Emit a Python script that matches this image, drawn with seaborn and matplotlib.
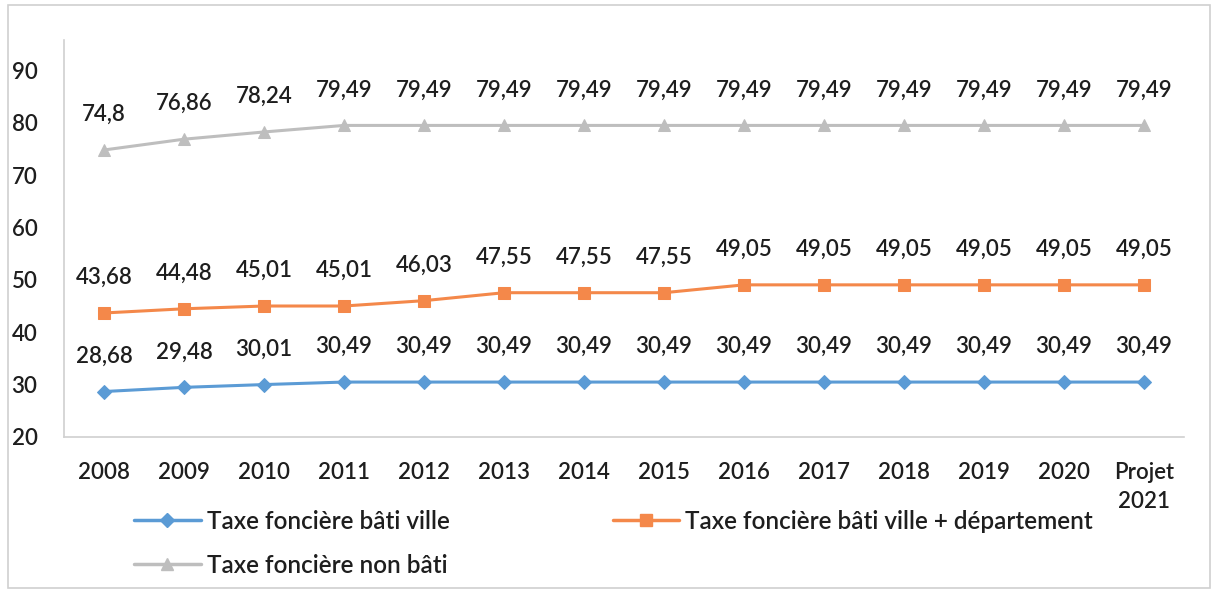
import matplotlib
matplotlib.use("Agg")
import matplotlib.pyplot as plt
import seaborn as sns
import pandas as pd
from matplotlib.lines import Line2D
from matplotlib.patches import Rectangle

categories = ["2008", "2009", "2010", "2011", "2012", "2013", "2014", "2015",
              "2016", "2017", "2018", "2019", "2020", "Projet\n2021"]
bati_ville = [28.68, 29.48, 30.01, 30.49, 30.49, 30.49, 30.49, 30.49,
              30.49, 30.49, 30.49, 30.49, 30.49, 30.49]
bati_ville_dep = [43.68, 44.48, 45.01, 45.01, 46.03, 47.55, 47.55, 47.55,
                  49.05, 49.05, 49.05, 49.05, 49.05, 49.05]
non_bati = [74.8, 76.86, 78.24, 79.49, 79.49, 79.49, 79.49, 79.49,
            79.49, 79.49, 79.49, 79.49, 79.49, 79.49]
series_names = ["Taxe foncière bâti ville",
                "Taxe foncière bâti ville + département",
                "Taxe foncière non bâti"]
yticks = [20, 30, 40, 50, 60, 70, 80, 90]

colors = ["#5B9BD5", "#F4884A", "#BEBEBE"]
markers = ["D", "s", "^"]
msizes = [7, 9, 8]
FS = 16
TXT = "#1E1E1E"
W = "semibold"

sns.set_theme(style="white")
plt.rcParams["font.family"] = ["Lato", "DejaVu Sans"]

fig = plt.figure(figsize=(12.15, 5.93), dpi=100)
ax = fig.add_axes([64/1215, 1-437/593, (1184-64)/1215, (437-40)/593])

idx = list(range(len(categories)))
for vals, name, c, m, ms in zip([bati_ville, bati_ville_dep, non_bati], series_names, colors, markers, msizes):
    df = pd.DataFrame({"x": idx, "y": vals})
    sns.lineplot(data=df, x="x", y="y", ax=ax, color=c, linewidth=2.2,
                 marker=m, markersize=ms, markeredgecolor=c, label=name, legend=False)
    for xi, yi in zip(idx, vals):
        ax.annotate(f"{yi:g}".replace(".", ","), (xi, yi), xytext=(0, 18),
                    textcoords="offset points", ha="center", va="bottom",
                    fontsize=FS, color=TXT, fontweight=W)

ax.set_xlim(-0.5, len(categories) - 0.5)
ax.set_ylim(20, 95.8)
ax.set_yticks(yticks)
ax.set_yticklabels([str(t) for t in yticks], fontsize=FS, color=TXT, fontweight=W)
ax.set_xticks(idx)
ax.set_xticklabels(categories, fontsize=FS, color=TXT, linespacing=1.5, va="top", fontweight=W)
ax.tick_params(axis="y", length=0, pad=19)
ax.tick_params(axis="x", length=0, pad=18)
ax.set_xlabel("")
ax.set_ylabel("")
for s in ["top", "right"]:
    ax.spines[s].set_visible(False)
for s in ["left", "bottom"]:
    ax.spines[s].set_color("#D0D0D0")
    ax.spines[s].set_linewidth(1.2)

handles = [Line2D([], [], color=colors[i], marker=markers[i], markersize=msizes[i],
                  linewidth=2.5, markeredgecolor=colors[i]) for i in range(3)]
order = [0, 2, 1]
fig.legend([handles[i] for i in order], [series_names[i] for i in order],
           ncol=2, loc="upper left", bbox_to_anchor=(112/1215, 1-488/593),
           frameon=False, handlelength=2.75, handletextpad=0.25,
           columnspacing=6.7, labelspacing=0.85, labelcolor=TXT,
           prop={"size": 17.5, "weight": W, "family": ["Lato", "DejaVu Sans"]})

fig.patches.append(Rectangle((8/1215, 5/593), 1202/1215, 583/593, transform=fig.transFigure,
                             fill=False, edgecolor="#D0D0D0", linewidth=1.2))

fig.savefig("out.png", dpi=100)
